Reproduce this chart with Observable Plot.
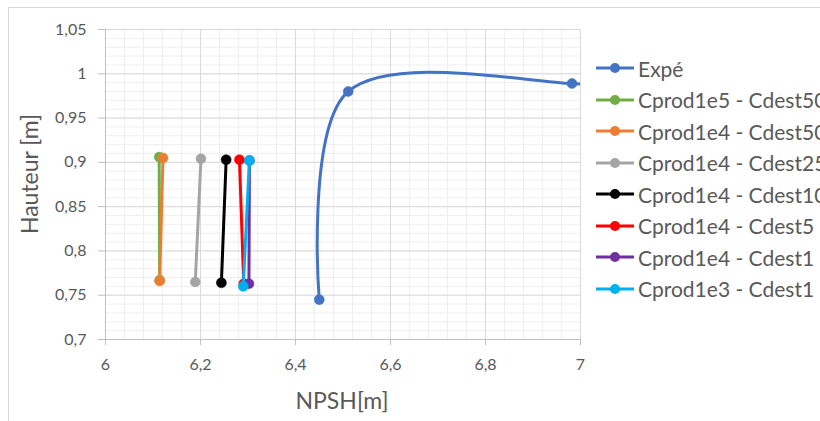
<!DOCTYPE html>
<html><head><meta charset="utf-8">
<script src="https://cdn.jsdelivr.net/npm/d3@7"></script>
<script src="https://cdn.jsdelivr.net/npm/@observablehq/plot@0.6"></script>
<style>
html,body{margin:0;padding:0;background:#fff;width:820px;height:421px;overflow:hidden;}
#wrap{position:relative;width:820px;height:421px;overflow:hidden;font-family:Lato,sans-serif;background:#fff;}
#border{position:absolute;left:8px;top:7px;width:900px;height:500px;border:1px solid #D9D9D9;}
#chart{position:absolute;left:0;top:0;}
#chart svg text{fill:#595959;font-size:16px;font-family:Lato,sans-serif;}
.row{position:absolute;left:595px;height:24px;display:flex;align-items:center;white-space:nowrap;font-size:21px;color:#595959;}
.row svg{margin-right:3px;flex:none;}
.title{position:absolute;font-size:23px;color:#595959;white-space:nowrap;}
</style></head>
<body><div id="wrap"><div id="border"></div><div id="chart"></div><div id="legend"></div>
<div class="title" id="xt">NPSH[m]</div><div class="title" id="yt">Hauteur [m]</div></div>
<script>
// ---- data ----
const seriesNames = ["Expé", "Cprod1e5 - Cdest50", "Cprod1e4 - Cdest50", "Cprod1e4 - Cdest25", "Cprod1e4 - Cdest10", "Cprod1e4 - Cdest5", "Cprod1e4 - Cdest1", "Cprod1e3 - Cdest1"];
const seriesColors = ["#4472C4", "#70AD47", "#ED7D31", "#A5A5A5", "#000000", "#FF0000", "#7030A0", "#00B0F0"];

const expeNPSH = [6.450, 6.511, 6.982, 7.2];
const expeHauteur = [0.745, 0.980, 0.989, 0.960];
const c5d50NPSH = [6.113, 6.114];
const c5d50Hauteur = [0.906, 0.767];
const c4d50NPSH = [6.121, 6.114];
const c4d50Hauteur = [0.905, 0.766];
const c4d25NPSH = [6.201, 6.189];
const c4d25Hauteur = [0.904, 0.765];
const c4d10NPSH = [6.254, 6.244];
const c4d10Hauteur = [0.903, 0.764];
const c4d5NPSH = [6.282, 6.291];
const c4d5Hauteur = [0.903, 0.763];
const c4d1NPSH = [6.303, 6.302];
const c4d1Hauteur = [0.902, 0.763];
const c3d1NPSH = [6.303, 6.290];
const c3d1Hauteur = [0.902, 0.760];

const xTicks = [6, 6.2, 6.4, 6.6, 6.8, 7];
const xTickLabels = ["6", "6,2", "6,4", "6,6", "6,8", "7"];
const yTicks = [0.7, 0.75, 0.8, 0.85, 0.9, 0.95, 1, 1.05];
const yTickLabels = ["0,7", "0,75", "0,8", "0,85", "0,9", "0,95", "1", "1,05"];

// ---- build ----
const seriesX = [expeNPSH, c5d50NPSH, c4d50NPSH, c4d25NPSH, c4d10NPSH, c4d5NPSH, c4d1NPSH, c3d1NPSH];
const seriesY = [expeHauteur, c5d50Hauteur, c4d50Hauteur, c4d25Hauteur, c4d10Hauteur, c4d5Hauteur, c4d1Hauteur, c3d1Hauteur];
const series = seriesNames.map((name, i) => ({
  name, color: seriesColors[i],
  data: seriesX[i].map((x, j) => ({x, y: seriesY[i][j]}))
}));

const xMinor = d3.range(0, 26).map(i => 6 + i * 0.04);
const yMinor = d3.range(0, 36).map(i => 0.7 + i * 0.01);

const marks = [
  Plot.ruleX(xMinor, {stroke: "#EFEFEF", strokeWidth: 1}),
  Plot.ruleY(yMinor, {stroke: "#EFEFEF", strokeWidth: 1}),
  Plot.ruleX(xTicks, {stroke: "#D9D9D9", strokeWidth: 1}),
  Plot.ruleY(yTicks, {stroke: "#D9D9D9", strokeWidth: 1}),
  Plot.ruleX([6], {stroke: "#BFBFBF", strokeWidth: 1}),
  Plot.ruleY([0.7], {stroke: "#BFBFBF", strokeWidth: 1})
];
series.forEach((s, i) => {
  marks.push(Plot.line(s.data, {x: "x", y: "y", stroke: s.color, strokeWidth: 3, curve: i === 0 ? "cardinal" : "linear", clip: true}));
  marks.push(Plot.dot(s.data, {x: "x", y: "y", r: 5, fill: s.color, stroke: s.color, strokeWidth: 0.5, clip: true}));
});

const chart = Plot.plot({
  width: 820, height: 421,
  marginLeft: 105, marginRight: 240, marginTop: 29, marginBottom: 82,
  style: {background: "transparent", color: "#BFBFBF", fontFamily: "Lato, sans-serif", fontSize: "16px"},
  x: {domain: [6, 7], ticks: xTicks, tickFormat: d => xTickLabels[xTicks.indexOf(d)], tickSize: 6, tickPadding: 13, label: null},
  y: {domain: [0.7, 1.05], ticks: yTicks, tickFormat: d => yTickLabels[yTicks.indexOf(d)], tickSize: 7, tickPadding: 12, label: null},
  marks
});
document.getElementById("chart").appendChild(chart);

// legend
const legend = document.getElementById("legend");
series.forEach((s, i) => {
  const row = document.createElement("div");
  row.className = "row";
  row.style.top = (68.3 + i * 31.5 - 12) + "px";
  row.innerHTML = `<svg width="40" height="14"><line x1="1" x2="39" y1="7" y2="7" stroke="${s.color}" stroke-width="3"/><circle cx="20" cy="7" r="5" fill="${s.color}"/></svg><span>${s.name}</span>`;
  legend.appendChild(row);
});

// axis titles
const xt = document.getElementById("xt");
xt.style.left = (342 - xt.offsetWidth / 2) + "px";
xt.style.top = (400 - xt.offsetHeight / 2) + "px";
const yt = document.getElementById("yt");
yt.style.left = (29 - yt.offsetWidth / 2) + "px";
yt.style.top = (174 - yt.offsetHeight / 2) + "px";
yt.style.transform = "rotate(-90deg)";
</script>
</body></html>
